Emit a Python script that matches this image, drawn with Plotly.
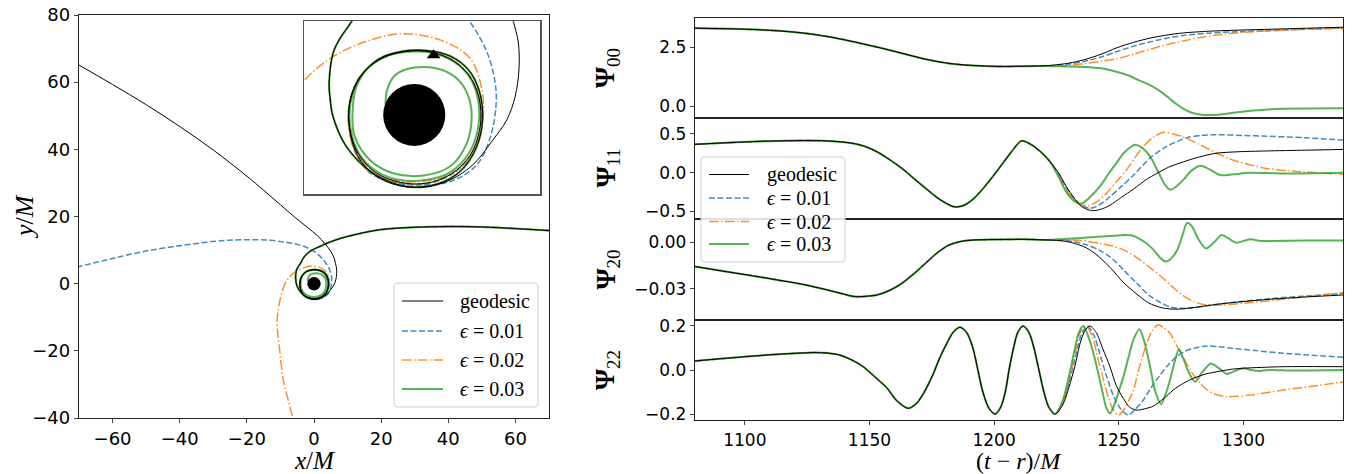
import plotly.graph_objects as go

W, H = 1354, 474


def px(x):
    return x / W


def py(y):
    return 1 - y / H


# ---------------------------------------------------------------- labels / styles
LABELS = ["geodesic", "<i>ϵ</i> = 0.01", "<i>ϵ</i> = 0.02", "<i>ϵ</i> = 0.03"]
COLORS = ["black", "rgba(31,119,180,0.85)", "rgba(255,127,14,0.88)", "rgba(44,160,44,0.8)"]
DASHES = ["solid", "6px,2.5px", "9.6px,2.4px,1.5px,2.4px", "solid"]
WIDTHS = [1.0, 1.5, 1.5, 2.0]

# ---------------------------------------------------------------- orbits (x/M, y/M)
INCOMING_X = [70, 60, 50, 40, 30, 20, 13, 8, 4.8, 2.0, -1.2, -3.0, -4.04, -4.8, -5.23, -5.48, -5.4,
              -5.23, -4.37, -2.65, -0.49, 1.5, 3.0, 4.0, 4.4, 4.2, 3.5, 2.3, 0.8, -0.8]
INCOMING_Y = [15.8, 16.4, 16.9, 17.0, 16.8, 16.1, 14.8, 13.5, 12.4, 11.2, 9.6, 7.9, 6.02, 4.9, 3.98, 2.04, 0.9,
              -0.11, -2.04, -3.76, -4.62, -4.45, -3.6, -2.1, -0.3, 1.5, 2.9, 3.8, 4.15, 4.1]

GEO_TAIL_X = [-2.3, -3.5, -4.15, -4.15, -3.6, -2.5, -0.9, 0.8, 2.4, 3.6, 4.2, 4.25, 3.7, 2.6, 1.1, -0.5, -2.1,
              -3.4, -4.1, -4.2, -3.8, -2.9, -1.4, 0.58, 2.3, 3.8, 5.0, 5.96, 6.5, 6.75, 6.7, 6.39, 6.0, 5.0,
              3.3, 1.0, -2.0, -5.5, -10, -15, -20, -30, -40, -50, -60, -70]
GEO_TAIL_Y = [3.6, 2.4, 0.8, -0.9, -2.5, -3.7, -4.35, -4.4, -3.8, -2.6, -1.0, 0.7, 2.3, 3.45, 4.05, 4.1, 3.65,
              2.6, 1.1, -0.6, -2.3, -3.6, -4.45, -4.67, -4.2, -3.2, -1.7, -0.32, 1.2, 3.0, 4.7, 6.02, 7.6, 9.6,
              11.9, 14.3, 16.8, 19.6, 23.5, 27.8, 32.0, 39.8, 46.8, 53.3, 59.3, 65.1]

E1_TAIL_X = [-2.3, -3.5, -4.15, -4.2, -3.7, -2.6, -1.0, 0.7, 2.3, 3.6, 4.25, 4.25, 3.7, 2.6, 1.1, -0.5, -2.1,
             -3.4, -4.12, -4.2, -3.8, -2.9, -1.57, 0.15, 2.3, 4.02, 4.88, 5.27, 5.2, 4.67, 3.59, 2.4, 0.5,
             -2.0, -5.0, -8.3, -13, -18.9, -24, -29.5, -40, -50.7, -60, -70]
E1_TAIL_Y = [3.6, 2.4, 0.8, -0.9, -2.5, -3.75, -4.4, -4.45, -3.9, -2.7, -1.0, 0.7, 2.3, 3.45, 4.05, 4.1, 3.65,
             2.6, 1.0, -0.8, -2.4, -3.7, -4.3, -4.52, -4.3, -3.23, -1.5, 0.65, 2.15, 4.09, 6.02, 7.6, 9.3,
             10.7, 11.7, 12.3, 12.9, 13.1, 13.0, 12.6, 11.3, 9.6, 7.5, 5.1]

E2_TAIL_X = [-2.3, -3.5, -4.15, -4.2, -3.7, -2.6, -1.0, 0.7, 2.3, 3.6, 4.25, 4.25, 3.7, 2.6, 1.1, -0.5, -2.1,
             -3.4, -4.12, -4.2, -3.8, -2.9, -1.4, 0.3, 2.0, 3.4, 4.13, 4.45, 4.34, 3.59, 1.66, -0.92, -3.2,
             -5.23, -7.05, -8.6, -9.8, -10.7, -11.0, -10.2, -9.1, -7.6, -6.3]
E2_TAIL_Y = [3.6, 2.4, 0.8, -0.9, -2.5, -3.7, -4.35, -4.4, -3.85, -2.65, -1.0, 0.7, 2.3, 3.45, 4.05, 4.1, 3.65,
             2.6, 1.0, -0.8, -2.4, -3.65, -4.2, -4.3, -3.95, -3.0, -1.5, 0.0, 1.72, 3.66, 4.84, 5.23, 4.7,
             3.76, 2.26, 0.0, -3.5, -8.0, -12.0, -20.0, -28.8, -35.0, -40.0]

E3_TAIL_X = [-2.3, -3.5, -4.1, -4.1, -3.55, -2.4, -0.9, 0.7, 2.3, 3.5, 4.1, 4.15, 3.65, 2.6, 1.0, -0.06, -1.57,
             -2.86, -3.72, -3.98, -3.83, -2.86, -1.35, 0.58, 2.3, 3.38, 3.7, 3.45, 2.8, 1.8, 0.6, -0.5, -1.3,
             -1.75, -1.85]
E3_TAIL_Y = [3.6, 2.4, 0.8, -0.9, -2.5, -3.65, -4.2, -4.2, -3.7, -2.5, -0.9, 0.7, 2.3, 3.4, 4.04, 4.09, 3.87,
             3.12, 1.83, 0.0, -1.4, -2.9, -3.76, -3.91, -3.33, -1.83, 0.0, 1.3, 2.3, 2.9, 3.1, 2.95, 2.5, 1.6,
             0.65]

MARKER_X = [1.25]
MARKER_Y = [3.85]
HORIZON_R = 2.0

# ---------------------------------------------------------------- waveforms
T_TICKS = [1100, 1150, 1200, 1250, 1300]

PSI00_COMMON_T = [1080, 1095, 1110, 1123, 1133, 1143, 1153, 1163, 1172, 1182, 1190, 1198, 1205, 1212, 1218]
PSI00_COMMON_V = [3.30, 3.27, 3.21, 3.10, 2.95, 2.74, 2.50, 2.24, 2.00, 1.81, 1.73, 1.69, 1.68, 1.69, 1.70]
PSI00_T = [
    [1222, 1230, 1236, 1243, 1249, 1256, 1263, 1270, 1276, 1286, 1296, 1316, 1340],
    [1222, 1230, 1236, 1243, 1249, 1256, 1263, 1270, 1276, 1286, 1296, 1316, 1340],
    [1222, 1230, 1236, 1243, 1249, 1256, 1263, 1270, 1276, 1283, 1290, 1300, 1316, 1340],
    [1222, 1230, 1236, 1243, 1249, 1254, 1258, 1262, 1266, 1270, 1273, 1276, 1280, 1284, 1290, 1296,
     1303, 1316, 1340],
]
PSI00_V = [
    [1.72, 1.82, 1.96, 2.20, 2.46, 2.70, 2.89, 3.02, 3.10, 3.17, 3.21, 3.27, 3.34],
    [1.71, 1.78, 1.89, 2.08, 2.30, 2.54, 2.73, 2.89, 2.99, 3.09, 3.14, 3.22, 3.31],
    [1.70, 1.72, 1.80, 1.90, 2.00, 2.20, 2.42, 2.62, 2.76, 2.91, 3.02, 3.12, 3.22, 3.29],
    [1.69, 1.68, 1.66, 1.60, 1.46, 1.30, 1.10, 0.92, 0.68, 0.36, 0.10, -0.11, -0.30, -0.37, -0.36, -0.28,
     -0.19, -0.11, -0.09],
]

PSI11_COMMON_T = [1080, 1095, 1113, 1133, 1143, 1148, 1153, 1158, 1163, 1168, 1172.5, 1178, 1184, 1188, 1192,
                  1197, 1202, 1207, 1211, 1215, 1219, 1222.5]
PSI11_COMMON_V = [0.365, 0.39, 0.41, 0.41, 0.38, 0.34, 0.27, 0.17, 0.056, -0.08, -0.20, -0.34, -0.44, -0.42,
                  -0.33, -0.15, 0.056, 0.27, 0.41, 0.36, 0.26, 0.14]
PSI11_T = [
    [1226, 1229, 1232, 1234.5, 1237, 1239.8, 1243, 1246.5, 1251, 1256, 1261, 1265.3, 1270, 1276, 1282, 1289,
     1298, 1309, 1325, 1340],
    [1226, 1229, 1232, 1235, 1238.5, 1242, 1246.5, 1251, 1256, 1262.6, 1269.3, 1277.3, 1283, 1289.4, 1300,
     1309.5, 1325, 1340],
    [1226, 1229, 1233, 1237, 1241, 1245, 1249, 1253, 1256.5, 1260, 1264, 1268, 1272, 1276, 1282, 1289.4, 1296,
     1302.8, 1310, 1320, 1340],
    [1226, 1229, 1232, 1235, 1238, 1242.4, 1246, 1249, 1252, 1256.5, 1259, 1262.6, 1266, 1268.5, 1270.6, 1273,
     1276, 1279, 1282.7, 1286, 1290.7, 1296, 1302.8, 1316, 1340],
]
PSI11_V = [
    [-0.01, -0.18, -0.32, -0.42, -0.47, -0.49, -0.47, -0.42, -0.32, -0.21, -0.09, -0.01, 0.07, 0.14, 0.20,
     0.25, 0.27, 0.28, 0.29, 0.30],
    [-0.02, -0.20, -0.33, -0.42, -0.46, -0.42, -0.31, -0.18, -0.03, 0.19, 0.34, 0.45, 0.48, 0.49, 0.48, 0.47,
     0.45, 0.42],
    [-0.04, -0.22, -0.38, -0.43, -0.38, -0.27, -0.12, 0.03, 0.19, 0.34, 0.46, 0.52, 0.50, 0.46, 0.37, 0.25,
     0.16, 0.10, 0.05, 0.02, -0.02],
    [-0.06, -0.25, -0.36, -0.40, -0.33, -0.18, -0.01, 0.12, 0.25, 0.36, 0.33, 0.21, 0.0, -0.15, -0.22, -0.18,
     -0.09, 0.02, 0.09, 0.05, -0.03, -0.02, 0.0, -0.01, 0.0],
]

PSI20_COMMON_T = [1080, 1093, 1103, 1113, 1123, 1133, 1140, 1144, 1148, 1153, 1158, 1163, 1168, 1172.5, 1177,
                  1182, 1187, 1192, 1202, 1212, 1222]
PSI20_COMMON_V = [-0.0156, -0.019, -0.0215, -0.0242, -0.027, -0.0306, -0.0335, -0.0349, -0.0348, -0.0339,
                  -0.031, -0.0264, -0.020, -0.0135, -0.007, -0.0017, 0.0007, 0.0015, 0.0018, 0.0019, 0.0015]
PSI20_T = [
    [1228, 1232, 1237, 1242, 1247, 1252, 1257, 1262, 1267, 1271.5, 1276, 1281, 1291, 1311, 1340],
    [1228, 1232, 1237, 1242, 1247, 1252, 1257, 1262, 1267, 1271.5, 1276, 1281, 1291, 1311, 1340],
    [1228, 1235, 1242, 1247, 1252, 1257, 1262, 1267, 1271.5, 1276, 1280, 1284, 1291, 1300, 1311, 1325, 1340],
    [1228, 1235, 1242, 1248, 1252, 1255, 1258, 1261, 1264, 1267, 1269, 1271, 1273.5, 1275.5, 1277.5, 1279.5,
     1282, 1285, 1288, 1291.3, 1294, 1297.3, 1300, 1303, 1307, 1311, 1325, 1340],
]
PSI20_V = [
    [0.0008, -0.0006, -0.0035, -0.0092, -0.017, -0.026, -0.033, -0.039, -0.042, -0.043, -0.0428, -0.0418,
     -0.0396, -0.0366, -0.0339],
    [0.0012, 0.0004, -0.0015, -0.0049, -0.010, -0.0178, -0.026, -0.0339, -0.039, -0.042, -0.0425, -0.0418,
     -0.0396, -0.0362, -0.0330],
    [0.0016, 0.0012, -0.0006, -0.0022, -0.0049, -0.0095, -0.0156, -0.022, -0.0285, -0.0345, -0.038, -0.040,
     -0.0403, -0.0392, -0.0375, -0.035, -0.0324],
    [0.0022, 0.0028, 0.0036, 0.0042, 0.0047, 0.0045, 0.0026, -0.0005, -0.0049, -0.0105, -0.0124, -0.0105,
     -0.0049, 0.004, 0.0126, 0.010, 0.002, -0.0039, -0.0005, 0.0047, 0.0025, -0.0002, 0.0008, 0.0019, 0.0008,
     0.0009, 0.0011, 0.0011],
]

PSI22_COMMON_T = [1080, 1090, 1100.7, 1110, 1120.8, 1127.5, 1133, 1138, 1143, 1147.5, 1152, 1156.9, 1161,
                  1165.6, 1169, 1172, 1175.5, 1178, 1181, 1183.5, 1186.3, 1189, 1191.5, 1193.5, 1195.5, 1198,
                  1200.4, 1202.6, 1204.5, 1206, 1207.8, 1209.5, 1211.6, 1214, 1216, 1218, 1220, 1222]
PSI22_COMMON_V = [0.041, 0.051, 0.061, 0.069, 0.076, 0.079, 0.077, 0.068, 0.045, 0.015, -0.03, -0.08, -0.14,
                  -0.174, -0.15, -0.10, -0.02, 0.05, 0.12, 0.17, 0.194, 0.17, 0.10, 0.0, -0.10, -0.175,
                  -0.2, -0.17, -0.10, 0.0, 0.10, 0.17, 0.2, 0.17, 0.10, 0.0, -0.10, -0.17]
PSI22_T = [
    [1224.5, 1227.5, 1230, 1232.5, 1234.5, 1236.5, 1238.5, 1241, 1243.5, 1246.5, 1249, 1251.9, 1254.5, 1257.2,
     1260.5, 1263.9, 1268, 1271.9, 1276, 1279.9, 1285, 1289.3, 1295, 1300, 1316, 1340],
    [1224.5, 1227.5, 1230, 1232.5, 1235, 1237.4, 1240, 1242.5, 1245.2, 1248, 1251, 1253.9, 1256.5, 1259.9,
     1263, 1266.6, 1270, 1273.3, 1276.5, 1279.9, 1285.3, 1290, 1296, 1305, 1316, 1340],
    [1224.5, 1227.5, 1230, 1232.5, 1234.5, 1236.9, 1239.5, 1241.5, 1243.9, 1246, 1248, 1249.9, 1252, 1254,
     1255.9, 1258.5, 1261.3, 1263.5, 1265.9, 1268.2, 1270.6, 1273.3, 1276, 1279, 1282.6, 1286, 1290, 1293.4,
     1298, 1302.7, 1316.1, 1330, 1340],
    [1224.5, 1227.5, 1230, 1232.5, 1234, 1235.8, 1238.5, 1241.2, 1243.5, 1245, 1246.5, 1248.5, 1250.5, 1251.9,
     1254, 1256, 1258.3, 1260.5, 1262.6, 1264.5, 1267, 1268.8, 1270.6, 1272.5, 1274.2, 1276, 1278, 1280.7,
     1283.5, 1287, 1290, 1293.4, 1296.5, 1300, 1303, 1306, 1310, 1320, 1340],
]
PSI22_V = [
    [-0.2, -0.16, -0.08, 0.02, 0.12, 0.18, 0.2, 0.17, 0.10, 0.015, -0.07, -0.13, -0.17, -0.182, -0.176,
     -0.164, -0.13, -0.091, -0.06, -0.038, -0.018, -0.008, 0.003, 0.008, 0.015, 0.015],
    [-0.2, -0.15, -0.06, 0.05, 0.16, 0.2, 0.16, 0.07, -0.03, -0.12, -0.18, -0.205, -0.18, -0.136, -0.08,
     -0.023, 0.025, 0.061, 0.085, 0.098, 0.109, 0.106, 0.098, 0.088, 0.076, 0.058],
    [-0.2, -0.15, -0.05, 0.07, 0.17, 0.2, 0.15, 0.06, -0.045, -0.13, -0.185, -0.205, -0.18, -0.14, -0.091,
     0.02, 0.121, 0.18, 0.205, 0.19, 0.167, 0.11, 0.053, -0.005, -0.06, -0.095, -0.115, -0.121, -0.119,
     -0.114, -0.091, -0.07, -0.055],
    [-0.2, -0.14, -0.03, 0.10, 0.17, 0.2, 0.13, 0.015, -0.10, -0.17, -0.197, -0.15, -0.08, -0.03, 0.06, 0.14,
     0.185, 0.12, 0.015, -0.09, -0.155, -0.11, -0.045, 0.04, 0.094, 0.05, -0.008, -0.053, -0.01, 0.03, 0.01,
     -0.018, -0.005, 0.008, 0.0, -0.005, 0.0, -0.002, 0.0],
]

PANELS = [
    ("00", PSI00_COMMON_T, PSI00_COMMON_V, PSI00_T, PSI00_V, [-0.5, 3.73], [0.0, 2.5], ".1f"),
    ("11", PSI11_COMMON_T, PSI11_COMMON_V, PSI11_T, PSI11_V, [-0.597, 0.705], [-0.5, 0.0, 0.5], ".1f"),
    ("20", PSI20_COMMON_T, PSI20_COMMON_V, PSI20_T, PSI20_V, [-0.050, 0.015], [-0.03, 0.0], ".2f"),
    ("22", PSI22_COMMON_T, PSI22_COMMON_V, PSI22_T, PSI22_V, [-0.227, 0.227], [-0.2, 0.0, 0.2], ".1f"),
]

# ---------------------------------------------------------------- figure
fig = go.Figure()

orbits_x = [INCOMING_X + GEO_TAIL_X, INCOMING_X + E1_TAIL_X, INCOMING_X + E2_TAIL_X, INCOMING_X + E3_TAIL_X]
orbits_y = [INCOMING_Y + GEO_TAIL_Y, INCOMING_Y + E1_TAIL_Y, INCOMING_Y + E2_TAIL_Y, INCOMING_Y + E3_TAIL_Y]
DRAW_ORDER = [1, 2, 3, 0]

for xa, ya in (("x", "y"), ("x2", "y2")):
    for i in DRAW_ORDER:
        fig.add_trace(go.Scatter(
            x=orbits_x[i], y=orbits_y[i], xaxis=xa, yaxis=ya, mode="lines",
            line=dict(color=COLORS[i], width=WIDTHS[i], dash=DASHES[i], shape="spline", smoothing=1.0),
            showlegend=False, hoverinfo="skip"))

fig.add_trace(go.Scatter(x=MARKER_X, y=MARKER_Y, xaxis="x2", yaxis="y2", mode="markers",
                         marker=dict(symbol="triangle-up", size=12, color="black"),
                         showlegend=False, hoverinfo="skip"))

for p, (name, ct, cv, tails_t, tails_v, yr, yt, fmt) in enumerate(PANELS):
    n = p + 3
    for i in DRAW_ORDER:
        fig.add_trace(go.Scatter(
            x=ct + tails_t[i], y=cv + tails_v[i], xaxis=f"x{n}", yaxis=f"y{n}", mode="lines",
            line=dict(color=COLORS[i], width=WIDTHS[i], dash=DASHES[i], shape="spline", smoothing=0.8),
            showlegend=False, hoverinfo="skip"))

TICKFONT = dict(family="DejaVu Sans", size=17, color="black")
AX_LINE = dict(showline=True, mirror=True, linecolor="#222", linewidth=1.2, showgrid=False, zeroline=False,
               automargin=False)

layout_axes = {}
layout_axes["xaxis"] = dict(domain=[px(79), px(549)], range=[-70, 70], anchor="y",
                            tickvals=[-60, -40, -20, 0, 20, 40, 60], ticks="outside", ticklen=4,
                            tickfont=dict(family="DejaVu Sans", size=18, color="black"), **AX_LINE)
layout_axes["yaxis"] = dict(domain=[py(418), py(15)], range=[-40, 80], anchor="x",
                            tickvals=[-40, -20, 0, 20, 40, 60, 80], ticks="outside", ticklen=4,
                            tickfont=dict(family="DejaVu Sans", size=18, color="black"), **AX_LINE)
layout_axes["xaxis2"] = dict(domain=[px(304), px(540)], range=[-7.1, 8.1], anchor="y2",
                             showticklabels=False, ticks="", showline=True, mirror=True, linecolor="#555",
                             linewidth=1.5, showgrid=False, zeroline=False, automargin=False)
layout_axes["yaxis2"] = dict(domain=[py(194), py(21)], range=[-5.1, 6.06], anchor="x2",
                             showticklabels=False, ticks="", showline=True, mirror=True, linecolor="#555",
                             linewidth=1.5, showgrid=False, zeroline=False, automargin=False)

PANEL_PIX = [(18, 118), (118, 219), (219, 320), (320, 420)]
for p, (name, ct, cv, tails_t, tails_v, yr, yt, fmt) in enumerate(PANELS):
    n = p + 3
    top, bot = PANEL_PIX[p]
    last = (p == len(PANELS) - 1)
    xa = dict(domain=[px(695), px(1343)], range=[1080, 1340], anchor=f"y{n}", **AX_LINE)
    if last:
        xa.update(tickvals=T_TICKS, ticks="outside", ticklen=4, tickfont=TICKFONT)
    else:
        xa.update(showticklabels=False, ticks="")
    layout_axes[f"xaxis{n}"] = xa
    layout_axes[f"yaxis{n}"] = dict(domain=[py(bot), py(top)], range=yr, anchor=f"x{n}", tickvals=yt,
                                    tickformat=fmt, ticks="outside", ticklen=4, tickfont=TICKFONT, **AX_LINE)

SERIF = "Liberation Serif"
annotations = [
    dict(x=px(24), y=py(217), text="<i>y</i>/<i>M</i>", textangle=-90, font=dict(family=SERIF, size=26)),
    dict(x=px(314), y=py(460), text="<i>x</i>/<i>M</i>", font=dict(family=SERIF, size=25)),
    dict(x=px(1019), y=py(461), text="(<i>t</i> − <i>r</i>)/<i>M</i>", font=dict(family=SERIF, size=24)),
]
for p, panel in enumerate(PANELS):
    top, bot = PANEL_PIX[p]
    annotations.append(dict(x=px(607), y=py((top + bot) / 2), textangle=-90,
                            text=f"<b>Ψ</b><sub>{panel[0]}</sub>", font=dict(family=SERIF, size=27)))


def rrect(x0, y0, x1, y1, r=4):
    pts = [("M", x0 + r, y0), ("L", x1 - r, y0), ("Q", x1, y0, x1, y0 + r), ("L", x1, y1 - r),
           ("Q", x1, y1, x1 - r, y1), ("L", x0 + r, y1), ("Q", x0, y1, x0, y1 - r), ("L", x0, y0 + r),
           ("Q", x0, y0, x0 + r, y0)]
    s = ""
    for c in pts:
        coords = c[1:]
        parts = []
        for k in range(0, len(coords), 2):
            parts.append(f"{px(coords[k]):.5f},{py(coords[k + 1]):.5f}")
        s += c[0] + " ".join(parts) + " "
    return s + "Z"


shapes = []
for xr, yr_ in (("x", "y"), ("x2", "y2")):
    shapes.append(dict(type="circle", xref=xr, yref=yr_, x0=-HORIZON_R, x1=HORIZON_R, y0=-HORIZON_R,
                       y1=HORIZON_R, fillcolor="black", line=dict(width=0), layer="above"))


def add_legend(box, x_line, x_text, rows, size):
    shapes.append(dict(type="path", xref="paper", yref="paper", path=rrect(*box),
                       fillcolor="rgba(255,255,255,0.85)", line=dict(color="#cccccc", width=1), layer="above"))
    for i, yy in enumerate(rows):
        shapes.append(dict(type="line", xref="paper", yref="paper", x0=px(x_line[0]), x1=px(x_line[1]),
                           y0=py(yy), y1=py(yy), layer="above",
                           line=dict(color=COLORS[i], width=WIDTHS[i], dash=DASHES[i])))
        annotations.append(dict(x=px(x_text), y=py(yy), xanchor="left", yanchor="middle", text=LABELS[i],
                                font=dict(family=SERIF, size=size, color="black")))


add_legend((394, 283, 538, 407), (402, 443), 458, [301, 331, 360, 389], 20)
add_legend((701, 157, 845, 262), (709, 749), 765, [174.5, 198, 221.5, 244], 20)

for a in annotations:
    a.setdefault("showarrow", False)
    a.setdefault("xref", "paper")
    a.setdefault("yref", "paper")
    a.setdefault("xanchor", "center")
    a.setdefault("yanchor", "middle")
    a["font"].setdefault("color", "black")

fig.update_layout(width=W, height=H, autosize=False,
                  margin=dict(l=0, r=0, t=0, b=0, pad=0, autoexpand=False),
                  paper_bgcolor="white", plot_bgcolor="white", showlegend=False,
                  annotations=annotations, shapes=shapes, **layout_axes)

fig.write_html("out.html", config={"responsive": False, "displayModeBar": False, "staticPlot": True},
               post_script="document.body.style.margin='0';document.body.style.overflow='hidden';")
